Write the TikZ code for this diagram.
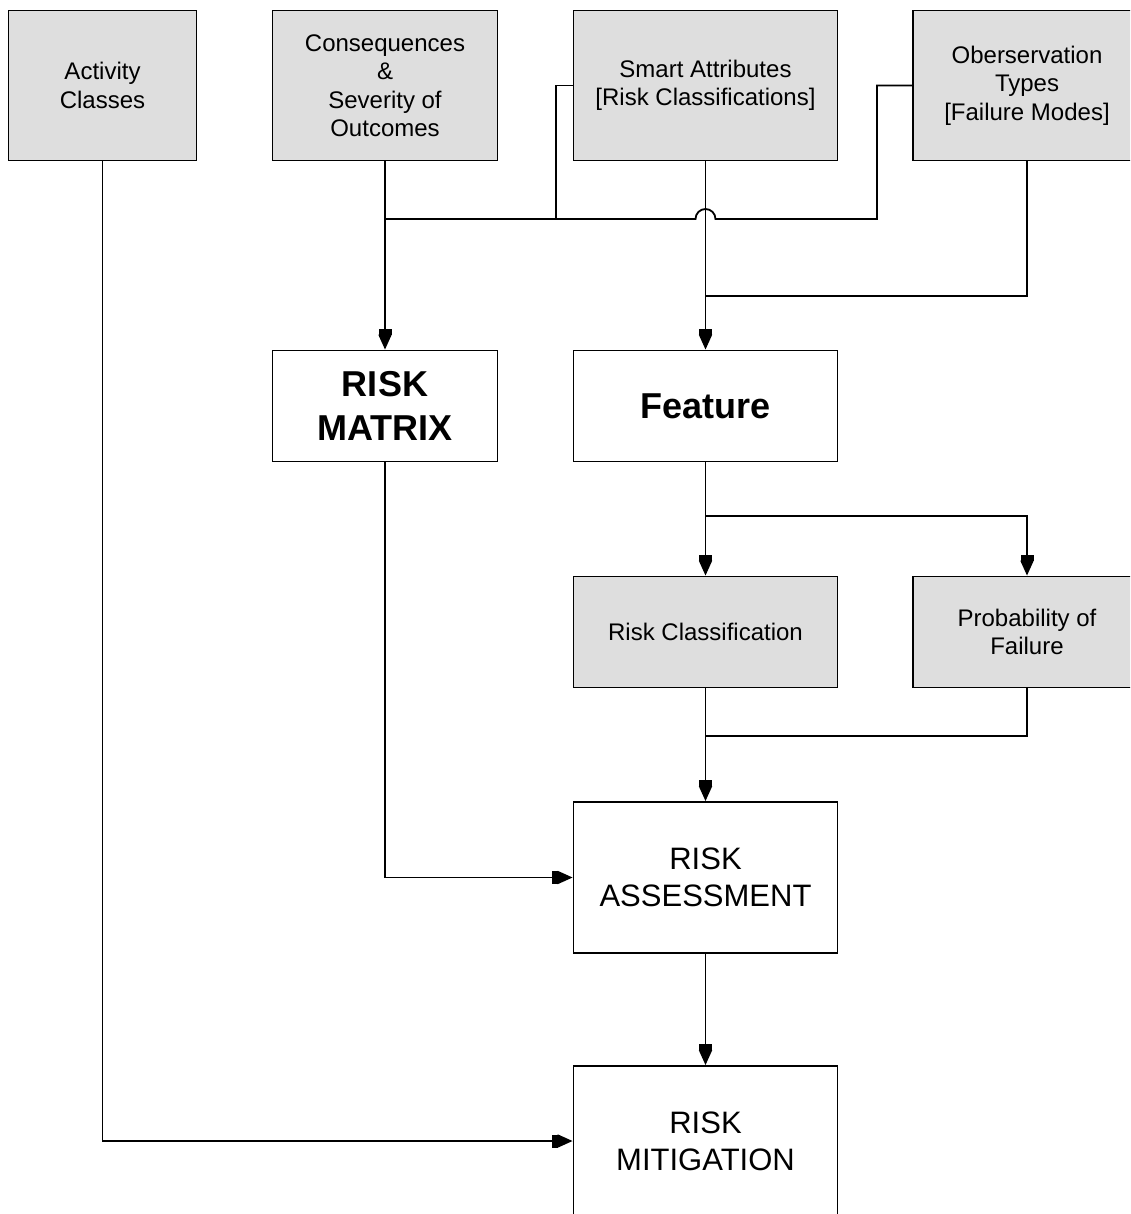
\documentclass[tikz,border=0pt]{standalone}
\usepackage{fontspec}
\setmainfont{Liberation Sans}
\usetikzlibrary{arrows.meta}
\definecolor{boxgrey}{RGB}{222,222,222}
\tikzset {
    base box/.style = {draw, line width = 1.8pt, align = center, inner sep = 0pt},
    grey box/.style = {base box, fill = boxgrey, font = \fontsize{24}{28.5}\selectfont},
    bold box/.style = {base box, fill = white, font = \fontsize{36}{44}\selectfont\bfseries},
    plain box/.style = {base box, fill = white, font = \fontsize{31}{37}\selectfont},
    link/.style = {line width = 1.8pt},
    arrowed/.style = {
        link,
        arrows = {-{Rectangle[length = 6pt, width = 13pt] Triangle[length = 15pt, width = 13pt]}}
    }
}
\begin{document}
\begin{tikzpicture}[x = 1pt, y = 1pt]
    \clip (0, 0) rectangle (1130, -1214);
    \fill [white] (0, 0) rectangle (1130, -1214);
    % inputs
    \node (act) [grey box, minimum width = 188pt, minimum height = 150pt] at (102.5, -85.5) {Activity\\Classes};
    \node (cons) [grey box, minimum width = 225pt, minimum height = 150pt] at (385, -85.5) {Consequences\\\&\\Severity of\\Outcomes};
    \node (smart) [grey box, minimum width = 264pt, minimum height = 150pt] at (705.5, -85.5) {Smart Attributes\\{[}Risk Classifications{]}};
    \node (obs) [grey box, minimum width = 228pt, minimum height = 150pt] at (1027, -85.5) {Oberservation\\Types\\{[}Failure Modes{]}};
    \node (matrix) [bold box, minimum width = 225pt, minimum height = 111pt] at (385, -406) {RISK\\MATRIX};
    \node (feat) [bold box, minimum width = 264pt, minimum height = 111pt] at (705.5, -406) {Feature};
    \node (rclass) [grey box, minimum width = 264pt, minimum height = 111pt] at (705.5, -632) {Risk Classification};
    \node (prob) [grey box, minimum width = 228pt, minimum height = 111pt] at (1027, -632) {Probability of\\Failure};
    \node (assess) [plain box, minimum width = 264pt, minimum height = 151pt] at (705.5, -877.5) {RISK\\ASSESSMENT};
    \node (mitig) [plain box, minimum width = 264pt, minimum height = 150pt] at (705.5, -1141) {RISK\\MITIGATION};
    % junctions
    \coordinate (sj) at (556, -219);
    \coordinate (oj) at (877, -219);
    \coordinate (fj) at (705.5, -296);
    \coordinate (bj) at (705.5, -516);
    \coordinate (aj) at (705.5, -736);
    % connectors
    \draw [arrowed] (cons.south) -- (matrix.north);
    \draw [arrowed] (smart.south) -- (feat.north);
    \draw [link] (smart.west) -| (sj) -- (cons.south |- sj);
    \draw [link] (obs.west) -| (oj) -- ([xshift = 10pt]smart.south |- oj) arc (0:180:10) -- (sj);
    \draw [link] (obs.south) |- (fj);
    \draw [arrowed] (feat.south) -- (rclass.north);
    \draw [arrowed] (bj) -| (prob.north);
    \draw [arrowed] (rclass.south) -- (assess.north);
    \draw [link] (prob.south) |- (aj);
    \draw [arrowed] (matrix.south) |- (assess.west);
    \draw [arrowed] (assess.south) -- (mitig.north);
    \draw [arrowed] (act.south) |- (mitig.west);
\end{tikzpicture}
\end{document}
